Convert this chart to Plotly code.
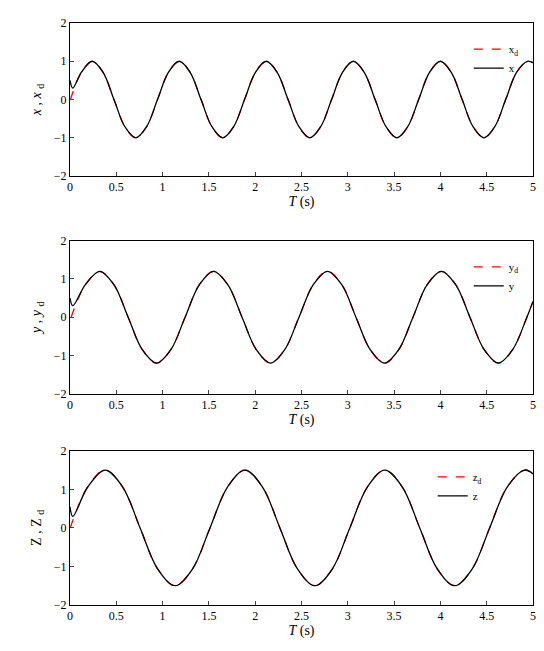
import plotly.graph_objects as go

# values (zero crossings, peaks, troughs and in-between points)
tx = [0.005, 0.1225, 0.24, 0.3575, 0.475, 0.5925, 0.71, 0.8275, 0.945, 1.0625, 1.18, 1.2975,
      1.415, 1.5325, 1.65, 1.7675, 1.885, 2.0025, 2.12, 2.2375, 2.355, 2.4725, 2.59, 2.7075,
      2.825, 2.9425, 3.06, 3.1775, 3.295, 3.4125, 3.53, 3.6475, 3.765, 3.8825, 4.0, 4.1175,
      4.235, 4.3525, 4.47, 4.5875, 4.705, 4.8225, 4.94, 5.0]
xd = [0, 0.71, 1, 0.71, 0, -0.71, -1, -0.71, 0, 0.71, 1, 0.71, 0, -0.71, -1, -0.71,
      0, 0.71, 1, 0.71, 0, -0.71, -1, -0.71, 0, 0.71, 1, 0.71, 0, -0.71, -1, -0.71,
      0, 0.71, 1, 0.71, 0, -0.71, -1, -0.71, 0, 0.71, 1, 0.96]
tx_act = [0, 0.03] + tx[1:]
x_act = [0.5, 0.3] + xd[1:]

ty = [0.0125, 0.166, 0.32, 0.474, 0.628, 0.781, 0.935, 1.089, 1.243, 1.397, 1.55, 1.704,
      1.858, 2.012, 2.166, 2.319, 2.473, 2.627, 2.781, 2.935, 3.088, 3.242, 3.396, 3.55,
      3.704, 3.857, 4.011, 4.165, 4.319, 4.473, 4.626, 4.78, 4.934, 5.0]
yd = [0, 0.85, 1.2, 0.85, 0, -0.85, -1.2, -0.85, 0, 0.85, 1.2, 0.85, 0, -0.85, -1.2, -0.85,
      0, 0.85, 1.2, 0.85, 0, -0.85, -1.2, -0.85, 0, 0.85, 1.2, 0.85, 0, -0.85, -1.2, -0.85,
      0, 0.41]
ty_act = [0, 0.03] + ty[1:]
y_act = [0.5, 0.3] + yd[1:]

tz = [0.0025, 0.191, 0.38, 0.569, 0.757, 0.946, 1.135, 1.324, 1.512, 1.701, 1.89, 2.079,
      2.267, 2.456, 2.645, 2.834, 3.022, 3.211, 3.4, 3.589, 3.777, 3.966, 4.155, 4.344,
      4.532, 4.721, 4.91, 5.0]
zd = [0, 1.06, 1.5, 1.06, 0, -1.06, -1.5, -1.06, 0, 1.06, 1.5, 1.06, 0, -1.06, -1.5, -1.06,
      0, 1.06, 1.5, 1.06, 0, -1.06, -1.5, -1.06, 0, 1.06, 1.5, 1.4]
tz_act = [0, 0.03] + tz[1:]
z_act = [0.55, 0.3] + zd[1:]

panels = [
    (tx, xd, tx_act, x_act, "x<sub>d</sub>", "x", "<i>x</i> , <i>x</i> <sub>d</sub>"),
    (ty, yd, ty_act, y_act, "y<sub>d</sub>", "y", "<i>y</i> , <i>y</i> <sub>d</sub>"),
    (tz, zd, tz_act, z_act, "z<sub>d</sub>", "z", "Z , Z <sub>d</sub>"),
]
domains = [[0.737, 1.0], [0.363, 0.626], [0.0, 0.265]]
legend_x = [0.98, 0.98, 0.9]

fig = go.Figure()
for i, (t1, v1, t2, v2, n1, n2, ytitle) in enumerate(panels):
    k = "" if i == 0 else str(i + 1)
    lg = "legend" + k
    fig.add_trace(go.Scatter(x=t1, y=v1, name=n1, mode="lines", line_shape="spline",
                             line=dict(color="red", width=1.3, dash="dash"),
                             xaxis="x" + k, yaxis="y" + k, legend=lg))
    fig.add_trace(go.Scatter(x=t2, y=v2, name=n2, mode="lines", line_shape="spline",
                             line=dict(color="black", width=1.3),
                             xaxis="x" + k, yaxis="y" + k, legend=lg))
    ax = dict(showline=True, mirror=True, linecolor="black", linewidth=1, ticks="inside",
              ticklen=4, showgrid=False, zeroline=False)
    fig.layout["xaxis" + k] = dict(ax, domain=[0, 1], range=[0, 5], dtick=0.5,
                                   anchor="y" + k,
                                   title=dict(text="<i>T</i> (s)", standoff=2))
    fig.layout["yaxis" + k] = dict(ax, domain=domains[i], range=[-2, 2], dtick=1,
                                   anchor="x" + k, title=dict(text=ytitle, standoff=8))
    fig.layout[lg] = dict(x=legend_x[i], y=domains[i][1] - 0.02, xanchor="right",
                          yanchor="top", bgcolor="rgba(0,0,0,0)", font=dict(size=11))

fig.update_layout(width=536, height=651, margin=dict(l=62, r=8, t=8, b=54),
                  paper_bgcolor="white", plot_bgcolor="white",
                  font=dict(family="Liberation Serif", size=12, color="black"))
fig.write_html("out.html")
